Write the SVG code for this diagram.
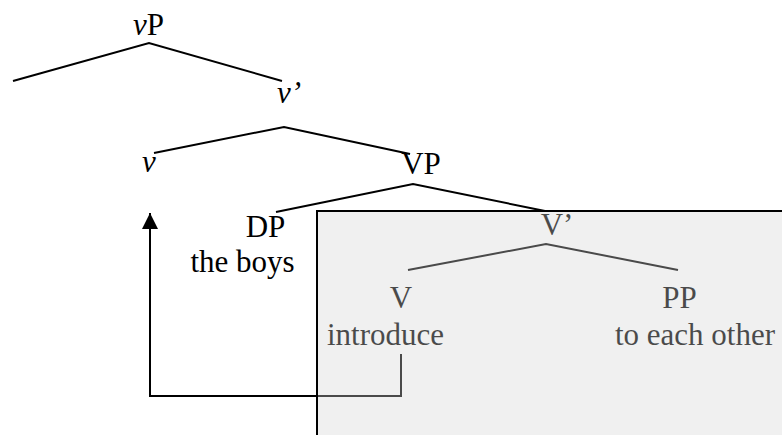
<svg xmlns="http://www.w3.org/2000/svg" width="782" height="435" viewBox="0 0 782 435">
<defs>
<style>
text{font-family:'Liberation Serif',Tinos,'Times New Roman',Times,'Noto Serif','DejaVu Serif',serif;font-size:31px;fill:#000;text-anchor:middle}
.it{font-style:italic}
.br{stroke:#000;stroke-width:2;fill:none}
</style>
<marker id="ah" viewBox="0 0 16 16" refX="16" refY="8" markerWidth="16" markerHeight="16" markerUnits="userSpaceOnUse" orient="auto">
<path d="M0,0 L16,8 L0,16 z" fill="#000"/>
</marker>
</defs>
<rect width="782" height="435" fill="#fff"/>
<g id="connectors">
<path class="br" d="M13,81 L149,43 L282,81"/>
<path class="br" d="M154,153 L284,127 L410,154"/>
<path class="br" d="M276,212 L413,184 L545,211"/>
<path class="br" d="M408,270 L546,244 L678,270"/>
<path class="br" d="M401,354 L401,396 L150,396 L150,213" marker-end="url(#ah)"/>
</g>
<g id="node-vP"><text x="148.5" y="35"><tspan class="it">v</tspan>P</text></g>
<g id="node-vbar"><text x="289" y="103" class="it">v’</text></g>
<g id="node-v"><text x="149" y="172" class="it">v</text></g>
<g id="node-VP"><text x="421" y="174">VP</text></g>
<g id="node-DP"><text x="265.5" y="237">DP</text><text x="242.5" y="272">the boys</text></g>
<g id="node-Vbar"><text x="557" y="235">V’</text></g>
<g id="node-V"><text x="401" y="308">V</text><text x="385.5" y="345">introduce</text></g>
<g id="node-PP"><text x="679.5" y="308">PP</text><text x="695" y="345">to each other</text></g>
<g id="box"><rect x="317" y="211" width="470" height="240" fill="#d4d4d4" fill-opacity="0.35" stroke="#000" stroke-width="2"/></g>
</svg>
